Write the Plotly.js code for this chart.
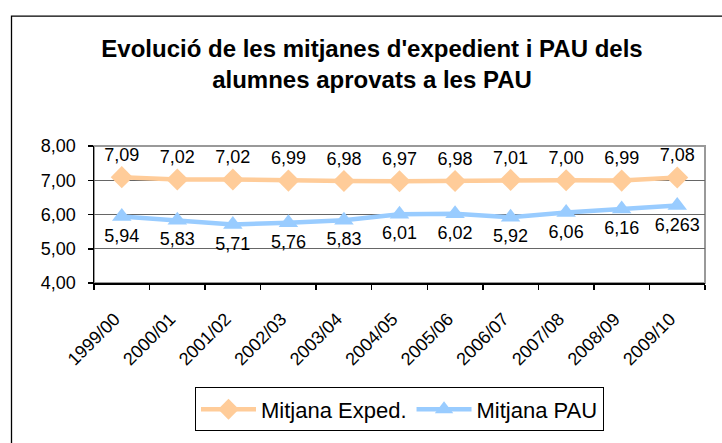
<!DOCTYPE html>
<html>
<head>
<meta charset="utf-8">
<script src="https://cdn.plot.ly/plotly-3.0.1.min.js"></script>
<style>html,body{margin:0;padding:0;background:#fff;}#chart{width:722px;height:443px;}</style>
</head>
<body>
<div id="chart"></div>
<script>
const categories = ["1999/00","2000/01","2001/02","2002/03","2003/04","2004/05","2005/06","2006/07","2007/08","2008/09","2009/10"];
const mitjanaExped = [7.09, 7.02, 7.02, 6.99, 6.98, 6.97, 6.98, 7.01, 7.00, 6.99, 7.08];
const mitjanaPAU = [5.94, 5.83, 5.71, 5.76, 5.83, 6.01, 6.02, 5.92, 6.06, 6.16, 6.263];
const seriesNames = ["Mitjana Exped.", "Mitjana PAU"];
const titleText = "Evolució de les mitjanes d'expedient i PAU dels<br>alumnes aprovats a les PAU";

function fmt(v) {
  const s = String(v);
  const dec = s.indexOf('.') >= 0 ? s.length - s.indexOf('.') - 1 : 0;
  return v.toFixed(Math.max(2, dec)).replace('.', ',');
}

const FONT = "Liberation Sans, Arial, sans-serif";

const traces = [
  {
    x: categories, y: mitjanaExped, name: seriesNames[0], type: 'scatter',
    mode: 'lines+markers+text',
    line: {color: '#FFCC99', width: 4.5},
    marker: {symbol: 'diamond', size: 17, color: '#FFCC99'},
    text: mitjanaExped.map(fmt), textposition: 'top center',
    textfont: {family: FONT, size: 18, color: '#000'},
    cliponaxis: false
  },
  {
    x: categories, y: mitjanaPAU, name: seriesNames[1], type: 'scatter',
    mode: 'lines+markers+text',
    line: {color: '#99CCFF', width: 4.5},
    marker: {symbol: 'triangle-up', size: 17, color: '#99CCFF'},
    text: mitjanaPAU.map(fmt), textposition: 'bottom center',
    textfont: {family: FONT, size: 18, color: '#000'},
    cliponaxis: false
  }
];

const L = 94, R = 17, T = 146, B = 154, W = 722, H = 443;
const pw = W - L - R, ph = H - T - B;
const px = v => (v - L) / pw;
const py = v => (H - B - v) / ph;

const layout = {
  width: W, height: H, autosize: false,
  margin: {l: L, r: R, t: T, b: B, pad: 0},
  paper_bgcolor: '#fff', plot_bgcolor: '#fff',
  separators: ',.',
  font: {family: FONT, color: '#000'},
  title: {
    text: titleText,
    font: {family: FONT, size: 24, color: '#000', weight: 'bold'},
    x: 372 / W, xref: 'container', xanchor: 'center',
    y: 1 - 57 / H, yref: 'container', yanchor: 'top'
  },
  xaxis: {
    type: 'category', range: [-0.5, categories.length - 0.5],
    tickmode: 'array', tickvals: categories,
    ticktext: categories.map(c => c + '\u00a0\u00a0'),
    showline: true, linecolor: '#000', linewidth: 1.5,
    ticks: 'outside', tickson: 'boundaries', ticklen: 5, tickcolor: '#000', tickwidth: 1.5,
    tickangle: -45, tickfont: {family: FONT, size: 18, color: '#000'},
    ticklabelstandoff: 10,
    showgrid: false, zeroline: false
  },
  yaxis: {
    range: [4, 8], dtick: 1, tick0: 4, tickformat: '.2f',
    showline: true, linecolor: '#000', linewidth: 1.5,
    ticks: 'outside', ticklen: 5, tickcolor: '#000', tickwidth: 1.5,
    tickfont: {family: FONT, size: 18, color: '#000'},
    ticklabelstandoff: 8,
    showgrid: true, gridcolor: '#666', gridwidth: 1.2,
    zeroline: false
  },
  legend: {
    orientation: 'h', x: 0.5, xanchor: 'center', y: py(398), yanchor: 'top',
    bordercolor: '#000', borderwidth: 1, bgcolor: '#fff',
    itemwidth: 55,
    font: {family: FONT, size: 22, color: '#000'}
  },
  shapes: [
    {type: 'rect', xref: 'paper', yref: 'paper', x0: 0, x1: 1, y0: 0, y1: 1,
     line: {color: '#999', width: 2}, layer: 'below'},
    {type: 'rect', xref: 'paper', yref: 'paper', x0: px(11.5), x1: px(760), y0: py(480), y1: py(10.5),
     line: {color: '#000', width: 1.3}, layer: 'below'}
  ]
};

Plotly.newPlot('chart', traces, layout, {staticPlot: true, displayModeBar: false});
</script>
</body>
</html>
